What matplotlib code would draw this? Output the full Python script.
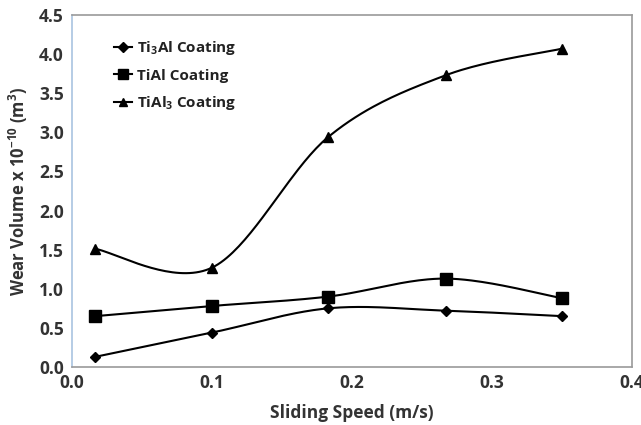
import numpy as np
import matplotlib
matplotlib.use("Agg")
import matplotlib.pyplot as plt
from matplotlib.lines import Line2D

FONT = 'Open Sans'
plt.rcParams['font.family'] = [FONT, 'DejaVu Sans']
plt.rcParams['mathtext.fontset'] = 'custom'
plt.rcParams['mathtext.rm'] = FONT + ':bold'
plt.rcParams['mathtext.bf'] = FONT + ':bold'
plt.rcParams['mathtext.it'] = FONT + ':bold'

speed = [0.0167, 0.1, 0.183, 0.267, 0.35]
ti3al = [0.13, 0.44, 0.75, 0.72, 0.65]
tial = [0.65, 0.78, 0.90, 1.13, 0.88]
tial3 = [1.51, 1.27, 2.94, 3.73, 4.07]

series = [
    (r'Ti$_{3}$Al Coating', ti3al, 'D', 5.5),
    (r'TiAl Coating', tial, 's', 8),
    (r'TiAl$_{3}$ Coating', tial3, '^', 7.5),
]


def smooth(x, y, n=40):
    """Spreadsheet-style smoothed curve: cubic Bezier with 1/6 tangents."""
    x = np.asarray(x, float)
    y = np.asarray(y, float)
    px = np.concatenate([[x[0]], x, [x[-1]]])
    py = np.concatenate([[y[0]], y, [y[-1]]])
    t = np.linspace(0, 1, n)
    xs, ys = [], []
    for i in range(len(x) - 1):
        p0 = np.array([px[i + 1], py[i + 1]])
        p3 = np.array([px[i + 2], py[i + 2]])
        c1 = p0 + (p3 - np.array([px[i], py[i]])) / 6
        c2 = p3 - (np.array([px[i + 3], py[i + 3]]) - p0) / 6
        b = ((1 - t) ** 3)[:, None] * p0 + (3 * (1 - t) ** 2 * t)[:, None] * c1 \
            + (3 * (1 - t) * t ** 2)[:, None] * c2 + (t ** 3)[:, None] * p3
        xs.append(b[:, 0])
        ys.append(b[:, 1])
    return np.concatenate(xs), np.concatenate(ys)


fig = plt.figure(figsize=(6.41, 4.25), dpi=100)
ax = fig.add_axes([0.1123, 0.1365, 0.8737, 0.8282])

handles = []
for label, vals, mk, ms in series:
    sx, sy = smooth(speed, vals)
    ax.plot(sx, sy, color='black', lw=1.5, zorder=2)
    ax.plot(speed, vals, linestyle='none', marker=mk, ms=ms, color='black', zorder=3)
    handles.append(Line2D([], [], color='black', lw=1.5, marker=mk, ms=ms * 0.85, label=label))

ax.set_xlim(0, 0.4)
ax.set_ylim(0, 4.5)
ax.set_xticks(np.arange(0, 0.41, 0.1))
ax.set_yticks(np.arange(0, 4.51, 0.5))
ax.set_xticklabels(['%.1f' % v for v in np.arange(0, 0.41, 0.1)])
ax.set_yticklabels(['%.1f' % v for v in np.arange(0, 4.51, 0.5)])
ax.tick_params(length=0, labelsize=12.5, colors='#333333')
ax.tick_params(axis='y', pad=6)
ax.tick_params(axis='x', pad=5)
for lab in ax.get_xticklabels() + ax.get_yticklabels():
    lab.set_fontweight('bold')

for side in ['top', 'right', 'bottom']:
    ax.spines[side].set_color('#9a9a9a')
    ax.spines[side].set_linewidth(1.2)
ax.spines['left'].set_color('#a9c4e0')
ax.spines['left'].set_linewidth(1.2)

ax.set_xlabel('Sliding Speed (m/s)', fontsize=12.5, fontweight='bold', color='#333333', labelpad=9)
ax.set_ylabel(r'Wear Volume x 10$^{-10}$ (m$^{3}$)', fontsize=12, fontweight='bold', color='#333333', labelpad=6)

leg = ax.legend(handles=handles, loc='upper left', bbox_to_anchor=(0.05, 0.97), frameon=False,
                fontsize=11, handlelength=1.2, handletextpad=0.3, labelspacing=0.75)
for t in leg.get_texts():
    t.set_fontweight('bold')
    t.set_color('#222222')

fig.savefig('out.png', dpi=100)
